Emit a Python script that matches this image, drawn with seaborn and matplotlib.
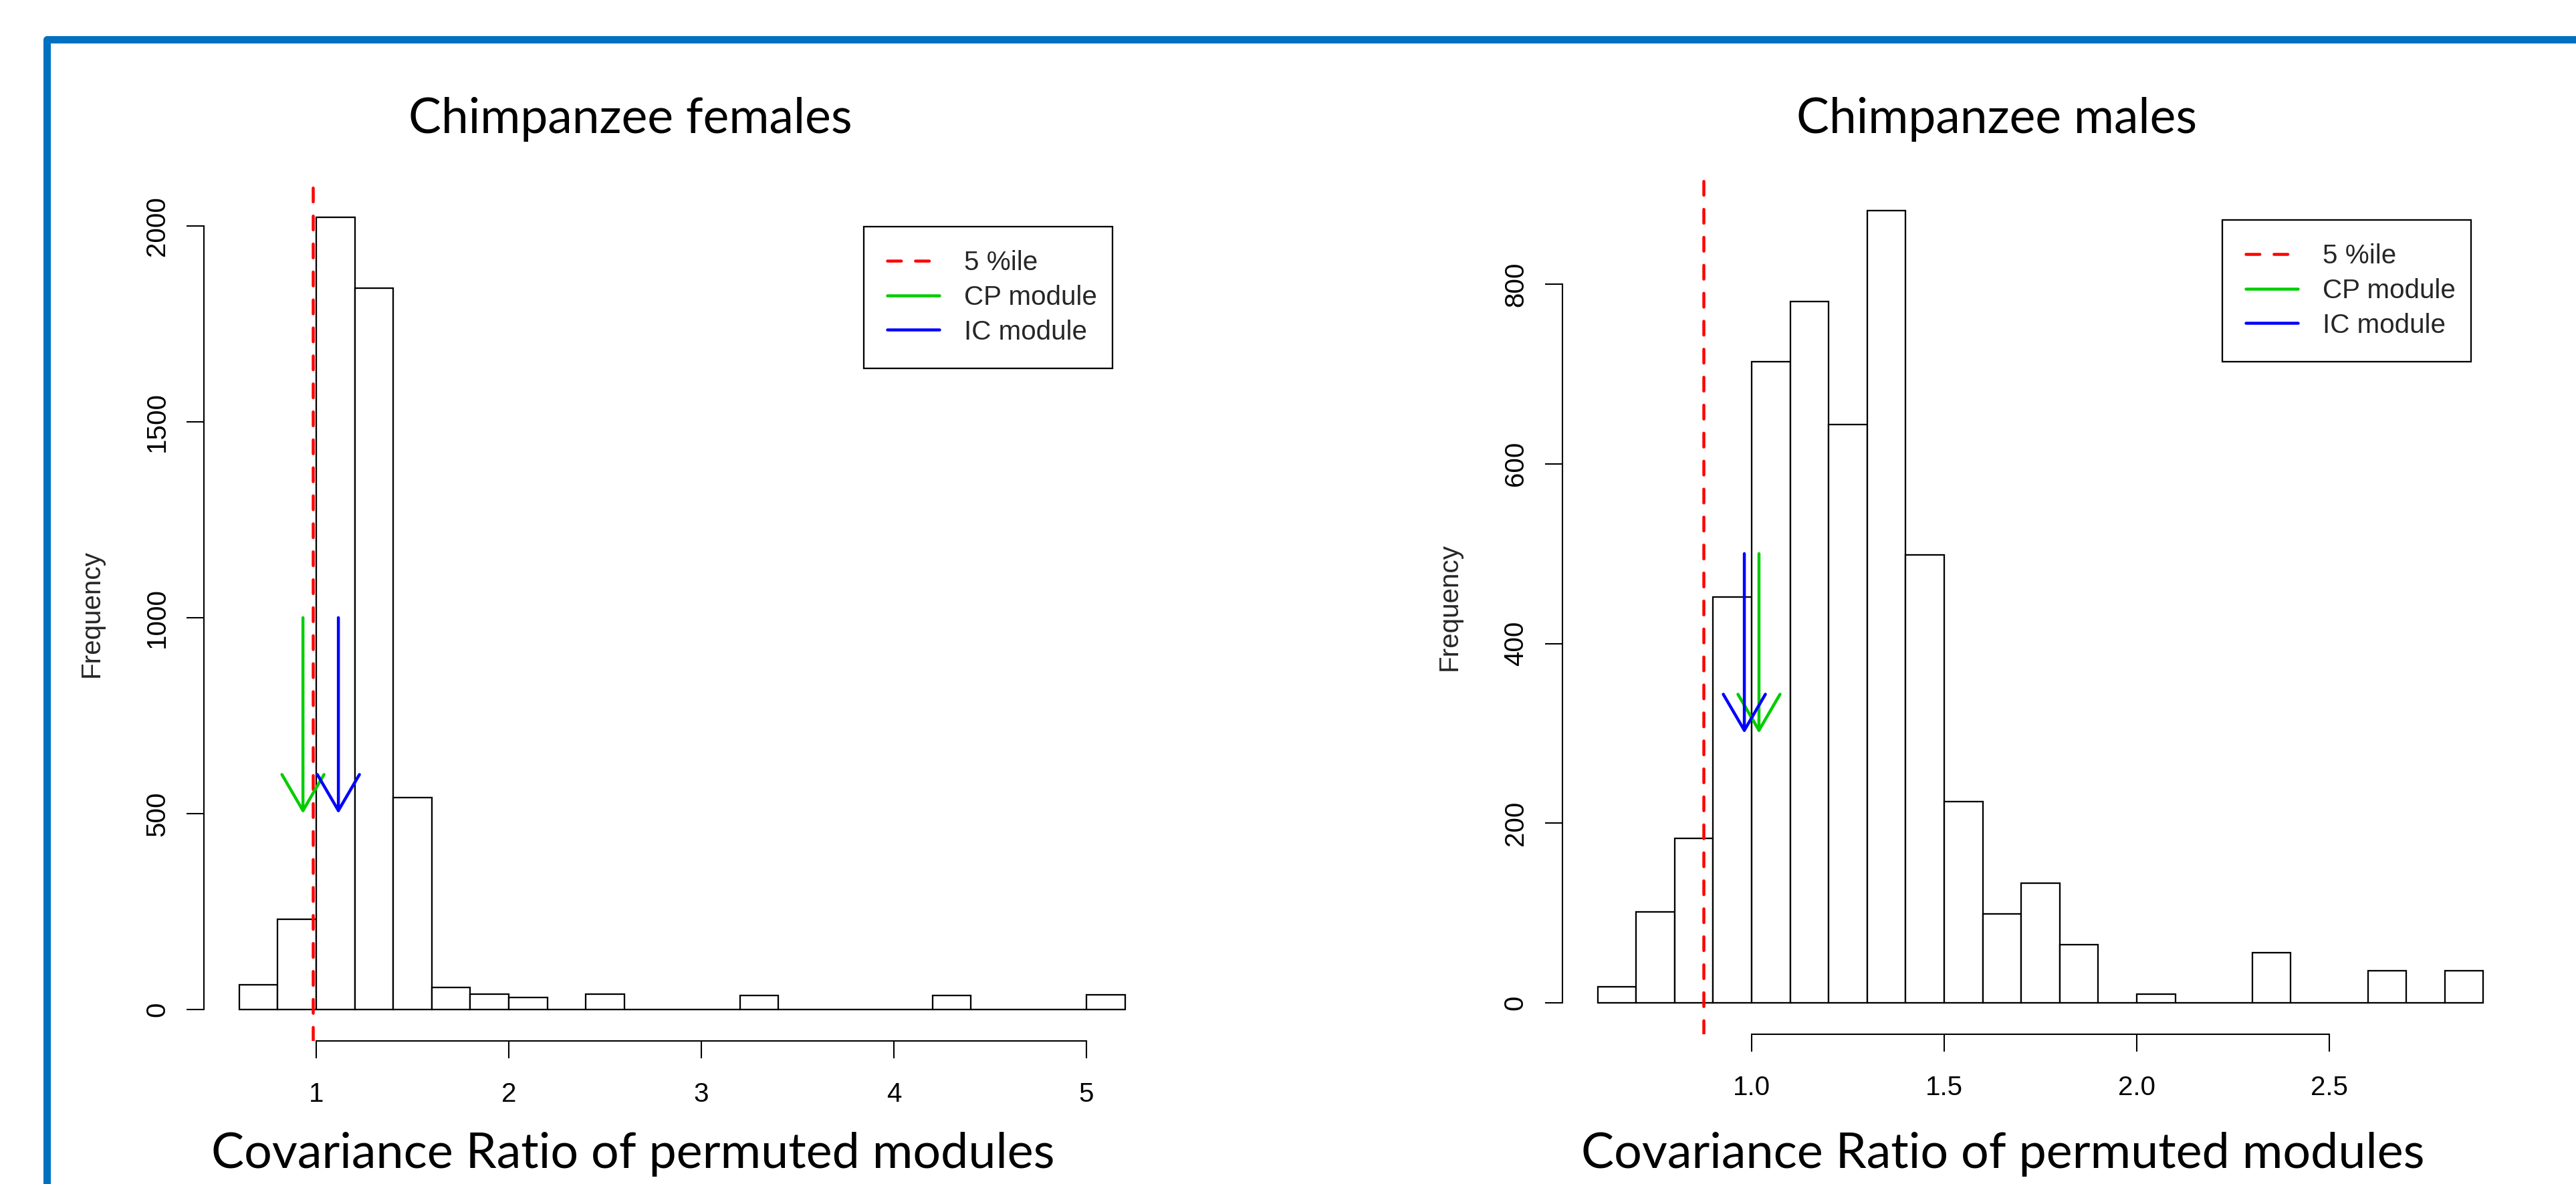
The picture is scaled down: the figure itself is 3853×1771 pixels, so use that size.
import numpy as np
import pandas as pd
import matplotlib
matplotlib.use("Agg")
import matplotlib.pyplot as plt
import seaborn as sns
from matplotlib.patches import FancyArrowPatch, Rectangle, ArrowStyle
from matplotlib.lines import Line2D

# ---------------- data ----------------
fem_edges = [0.6, 0.8, 1.0, 1.2, 1.4, 1.6, 1.8, 2.0, 2.2, 2.4, 2.6, 2.8,
             3.0, 3.2, 3.4, 3.6, 3.8, 4.0, 4.2, 4.4, 4.6, 4.8, 5.0, 5.2]
fem_counts = [63, 231, 2022, 1841, 541, 56, 39, 30, 0, 40, 0, 0,
              0, 36, 0, 0, 0, 0, 36, 0, 0, 0, 38]
fem_xticks = [1, 2, 3, 4, 5]
fem_yticks = [0, 500, 1000, 1500, 2000]
fem_pct5 = 0.983
fem_cp = 0.931
fem_ic = 1.115
fem_arrow_from = 1000
fem_arrow_to = 500

male_edges = [0.6, 0.7, 0.8, 0.9, 1.0, 1.1, 1.2, 1.3, 1.4, 1.5, 1.6, 1.7,
              1.8, 1.9, 2.0, 2.1, 2.2, 2.3, 2.4, 2.5, 2.6, 2.7, 2.8, 2.9]
male_counts = [18, 101, 183, 452, 714, 781, 644, 882, 499, 224, 99, 133,
               65, 0, 10, 0, 0, 56, 0, 0, 36, 0, 36]
male_xticks = [1.0, 1.5, 2.0, 2.5]
male_ytick = [0, 200, 400, 600, 800]
male_pct5 = 0.875
male_cp = 1.019
male_ic = 0.981
male_arrow_from = 500
male_arrow_to = 300

titles = ["Chimpanzee females", "Chimpanzee males"]
xlabel_text = "Covariance Ratio of permuted modules"
ylabel_text = "Frequency"
legend_labels = ["5 %ile", "CP module", "IC module"]
xtick_fmt = ["{:g}", "{:.1f}"]

# ---------------- style ----------------
sns.set_theme(style="ticks")
plt.rcParams["font.family"] = ["Liberation Sans", "DejaVu Sans"]
plt.rcParams["axes.linewidth"] = 0.5
plt.rcParams["xtick.major.width"] = 0.5
plt.rcParams["ytick.major.width"] = 0.5
plt.rcParams["xtick.major.size"] = 6.2
plt.rcParams["ytick.major.size"] = 6.2
plt.rcParams["xtick.color"] = "black"
plt.rcParams["ytick.color"] = "black"
plt.rcParams["axes.edgecolor"] = "black"

RED = "#FF0000"
GREEN = "#00CD00"
BLUE = "#0000FF"
BORDER = "#0070C0"
FS = 9.7
LW = 1.08

W, H, DPI = 3854, 1771, 300
fig = plt.figure(figsize=(W / DPI, H / DPI), dpi=DPI, facecolor="white")

ax_w, ax_h = 0.37125, 0.7227
axes_pos = [(0.07909, 0.12061), (0.60628, 0.12626)]

panels = [
    (fem_edges, fem_counts, fem_xticks, fem_yticks, fem_pct5, fem_cp, fem_ic,
     fem_arrow_from, fem_arrow_to),
    (male_edges, male_counts, male_xticks, male_ytick, male_pct5, male_cp,
     male_ic, male_arrow_from, male_arrow_to),
]

axes = []
for i, (edges, counts, xt, yt, p5, cp, ic, a_from, a_to) in enumerate(panels):
    ax = fig.add_axes([axes_pos[i][0], axes_pos[i][1], ax_w, ax_h])
    axes.append(ax)
    e = np.asarray(edges)
    mids = (e[:-1] + e[1:]) / 2
    df = pd.DataFrame({"ratio": mids, "n": counts})
    sns.histplot(data=df, x="ratio", weights="n", bins=edges, ax=ax,
                 color="white", edgecolor="black", linewidth=0.55, alpha=1,
                 stat="count")
    ymax = max(counts)
    rng = edges[-1] - edges[0]
    ax.set_xlim(edges[0] - 0.04 * rng, edges[-1] + 0.04 * rng)
    ax.set_ylim(-0.04 * ymax, 1.04 * ymax)
    ax.set_xticks(xt)
    ax.set_xticklabels([xtick_fmt[i].format(v) for v in xt])
    ax.set_yticks(yt)
    ax.set_yticklabels([str(v) for v in yt])
    sns.despine(ax=ax)
    ax.spines["left"].set_bounds(yt[0], yt[-1])
    ax.spines["bottom"].set_bounds(xt[0], xt[-1])
    ax.tick_params(axis="x", direction="out", labelsize=FS, pad=8.4)
    ax.tick_params(axis="y", direction="out", labelsize=FS, pad=6.0,
                   labelrotation=90)
    for t in ax.get_yticklabels():
        t.set_va("center")
    ax.set_xlabel("")
    ax.set_ylabel(ylabel_text, fontsize=FS)
    ax.yaxis.set_label_coords(-0.1045, 0.5)
    ax.set_facecolor("white")
    ax.grid(False)

    # 5th percentile line
    ax.axvline(p5, color=RED, lw=LW, linestyle=(0, (4.6, 4.7)),
               dash_capstyle="round", zorder=4)
    # module arrows
    style = ArrowStyle("->", head_length=12.96, head_width=7.56)
    for xv, col in ((cp, GREEN), (ic, BLUE)):
        arr = FancyArrowPatch((xv, a_from), (xv, a_to), arrowstyle=style,
                              mutation_scale=1, color=col, lw=LW,
                              shrinkA=0, shrinkB=0, capstyle="round",
                              joinstyle="round", zorder=5)
        ax.add_patch(arr)

    handles = [
        Line2D([], [], color=RED, lw=LW, linestyle=(0, (4.6, 4.7)),
               dash_capstyle="round"),
        Line2D([], [], color=GREEN, lw=LW, solid_capstyle="round"),
        Line2D([], [], color=BLUE, lw=LW, solid_capstyle="round"),
    ]
    leg = ax.legend(handles, legend_labels, loc="upper left",
                    bbox_to_anchor=(0.69, 0, 0.26, 0.952), mode="expand",
                    borderaxespad=0, frameon=True, fancybox=False,
                    edgecolor="black", framealpha=1, handlelength=1.93,
                    handletextpad=0.92, borderpad=0.87, labelspacing=0.34,
                    prop={"family": "Liberation Sans", "size": FS})
    leg.get_frame().set_linewidth(0.55)

# ---------------- titles and x labels (slide text) ----------------
title_x = [943 / W, 2987 / W]
title_y = 1 - 199 / H
xlab_x = [947 / W, 2996 / W]
xlab_y = 1 - 1747 / H

renderer = fig.canvas.get_renderer()


def fitted_size(txt, target_px, base=20):
    t = fig.text(0, 0, txt, family="Lato", size=base)
    w = t.get_window_extent(renderer=renderer).width
    t.remove()
    return base * target_px / w


title_size = fitted_size(titles[0], 665)
xlab_size = fitted_size(xlabel_text, 1263)

for i in range(2):
    fig.text(title_x[i], title_y, titles[i], ha="center", va="baseline",
             family="Lato", size=title_size, color="black")
    fig.text(xlab_x[i], xlab_y, xlabel_text, ha="center", va="baseline",
             family="Lato", size=xlab_size, color="black")

# ---------------- slide border ----------------
bx, by = 70 / W, 1 - 59 / H
border = Rectangle((bx, -0.2), 1.3, by + 0.2, transform=fig.transFigure,
                   fill=False, edgecolor=BORDER, lw=2.64, joinstyle="round",
                   zorder=10)
fig.patches.append(border)

fig.savefig("out.png", dpi=DPI, facecolor="white")
